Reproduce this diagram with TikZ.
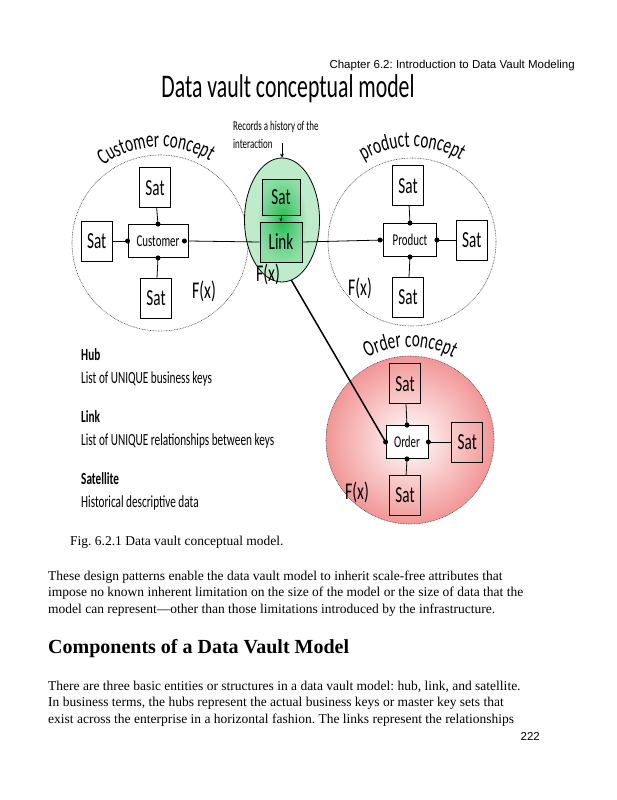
\documentclass[tikz,border=0pt]{standalone}
\usepackage{fontspec}
\setmainfont{Liberation Serif}
\newfontfamily\dvfont[FakeStretch=0.66]{Carlito}
\newfontfamily\hdfont{Liberation Sans}
\usepackage{tikz}
\usetikzlibrary{arrows.meta}
\usetikzlibrary{positioning}
\usetikzlibrary{shapes}
\usetikzlibrary{backgrounds}
\usetikzlibrary{decorations.text}

\definecolor{orderpink}{RGB}{242,150,150}
\definecolor{linkedge}{RGB}{190,236,202}
\definecolor{linkmid}{RGB}{120,212,150}
\definecolor{linkcore}{RGB}{30,190,80}
\pgfdeclareradialshading{linkglow}{\pgfpoint{0bp}{0bp}}{color(0bp)=(linkcore); color(8bp)=(linkmid); color(17bp)=(linkedge); color(25bp)=(linkedge); color(50bp)=(linkedge)}

\begin{document}
\frenchspacing
\begin{tikzpicture}[x=1pt, y=1pt,
    sat/.style={draw, line width=0.8pt, fill=white, minimum width=31pt, minimum height=40pt, inner sep=0pt, font=\dvfont\fontsize{23}{23}\selectfont},
    hub/.style={draw, line width=0.8pt, fill=white, minimum height=33pt, inner sep=0pt, font=\dvfont\fontsize{16.5}{16.5}\selectfont},
    concept/.style={circle, draw=black!70, dash pattern=on 0.8pt off 0.8pt, line width=0.6pt, inner sep=0pt},
    fx/.style={inner sep=0pt, font=\dvfont\fontsize{24}{24}\selectfont},
    conn/.style={line width=0.8pt},
    curvelabel/.style={decorate, decoration={text along path, text align=center, text={|\dvfont\fontsize{23}{23}\selectfont|#1}}},
    legend/.style={anchor=base west, inner sep=0pt, align=left, font=\dvfont\fontsize{17}{23}\selectfont},
    body/.style={anchor=base west, inner sep=0pt, align=left, font=\fontsize{13.5}{16.5}\selectfont}]
        \useasboundingbox (0,0) rectangle (617,-800);
        \begin{scope}[on background layer]
            \fill[white] (0,0) rectangle (617,-800);
            \node[concept, shade, minimum size=168pt, inner color=white, outer color=orderpink] (ordc) at (410,-440) {};
        \end{scope}

        \node[anchor=base east, inner sep=0pt, font=\hdfont\fontsize{11.5}{12}\selectfont] (chapter) at (575,-69) {Chapter 6.2: Introduction to Data Vault Modeling};
        \node[anchor=base, inner sep=0pt, font=\dvfont\fontsize{33}{33}\selectfont] (title) at (288,-97) {Data vault conceptual model};

        % customer concept
        \node[concept, minimum size=176pt] (custc) at (160,-243) {};
        \path[curvelabel=Customer concept] ([shift={(126:96pt)}]custc.center) arc[start angle=126, end angle=59, radius=96pt];
        \node[hub, minimum width=60pt] (cust) at (158,-241) {Customer};
        \node[sat, above=16pt of cust, xshift=-3pt] (custtop) {Sat};
        \node[sat, left=15pt of cust] (custleft) {Sat};
        \node[sat, below=20pt of cust, xshift=-2pt] (custbot) {Sat};
        \node[fx] (custfx) at (204,-291) {F(x)};
        \draw[conn] (custtop) -- (cust.north);
        \draw[conn] (custleft) -- (cust.west);
        \draw[conn] (custbot) -- (cust.south);
        \foreach \a in {north,south,west} \fill (cust.\a) circle (2.5pt);
        \fill ([xshift=-4pt]cust.east) circle (2.5pt);

        % product concept
        \node[concept, minimum size=168pt] (prodc) at (412,-242) {};
        \path[curvelabel=product concept] ([shift={(122:95pt)}]prodc.center) arc[start angle=122, end angle=58, radius=95pt];
        \node[hub, minimum width=53pt] (prod) at (410,-240) {Product};
        \node[sat, above=17pt of prod, xshift=-2pt] (prodtop) {Sat};
        \node[sat, right=19pt of prod] (prodright) {Sat};
        \node[sat, below=20pt of prod, xshift=-2pt] (prodbot) {Sat};
        \node[fx] (prodfx) at (360,-288) {F(x)};
        \draw[conn] (prodtop) -- (prod.north);
        \draw[conn] (prodright) -- (prod.east);
        \draw[conn] (prodbot) -- (prod.south);
        \foreach \a in {north,south,east} \fill (prod.\a) circle (2.5pt);
        \fill ([xshift=-3pt]prod.west) circle (2.5pt);

        % order concept
        \path[curvelabel=Order concept] ([shift={(118:93pt)}]ordc.center) arc[start angle=118, end angle=62, radius=93pt];
        \node[hub, minimum width=42pt] (ord) at (407,-442) {Order};
        \node[sat, fill=none, above=21pt of ord, xshift=-2pt] (ordtop) {Sat};
        \node[sat, fill=none, right=23pt of ord] (ordright) {Sat};
        \node[sat, fill=none, below=16pt of ord, xshift=-2pt] (ordbot) {Sat};
        \node[fx] (ordfx) at (357,-492) {F(x)};
        \draw[conn] (ordtop) -- (ord.north);
        \draw[conn] (ordright) -- (ord.east);
        \draw[conn] (ordbot) -- (ord.south);
        \foreach \a in {north,south,east,west} \fill (ord.\a) circle (2.5pt);

        % link
        \node[ellipse, draw, shade, shading=linkglow, line width=0.8pt, minimum width=75pt, minimum height=124pt] (linkc) at (282,-220) {};
        \node[sat, minimum width=38pt, minimum height=36pt, fill=linkcore, fill opacity=0.3, text opacity=1] (linksat) at (281,-197) {Sat};
        \node[sat, minimum width=42pt, minimum height=40pt, fill=linkcore, fill opacity=0.3, text opacity=1] (link) at (281,-242) {Link};
        \draw[conn, -{Latex[length=3pt,width=3.5pt]}] (linksat) -- (link);
        \node[fx] (linkfx) at (268,-274) {F(x)};
        \node[anchor=north west, inner sep=0pt, align=left, font=\dvfont\fontsize{13.5}{18}\selectfont] (records) at (233,-121) {Records a history of the\\interaction};
        \coordinate[above=15pt of linkc.north] (recordsend);
        \draw[line width=0.7pt, -{Stealth[length=4pt,width=4pt]}] (recordsend) -- (linkc.north);
        \draw[conn] (cust.east) -- (link.west);
        \draw[conn] (link.east) -- (prod.west);
        \begin{scope}[on background layer]
            \draw[line width=1.5pt] (link.south) -- (ord.west);
        \end{scope}

        % legend
        \node[legend] (hubtxt) at (81,-383) {\textbf{Hub}\\List of UNIQUE business keys};
        \node[legend] (linktxt) at (81,-445) {\textbf{Link}\\List of UNIQUE relationships between keys};
        \node[legend] (sattxt) at (81,-507) {\textbf{Satellite}\\Historical descriptive data};

        % page text
        \node[body] (caption) at (70,-545) {Fig. 6.2.1 Data vault conceptual model.};
        \node[body] (para1) at (48,-613) {These design patterns enable the data vault model to inherit scale-free attributes that\\impose no known inherent limitation on the size of the model or the size of data that the\\model can represent---other than those limitations introduced by the infrastructure.};
        \node[anchor=base west, inner sep=0pt, font=\bfseries\fontsize{20}{24}\selectfont] (heading) at (48,-653) {Components of a Data Vault Model};
        \node[body] (para2) at (48,-723) {There are three basic entities or structures in a data vault model: hub, link, and satellite.\\In business terms, the hubs represent the actual business keys or master key sets that\\exist across the enterprise in a horizontal fashion. The links represent the relationships};
        \node[anchor=base east, inner sep=0pt, font=\hdfont\fontsize{11.5}{12}\selectfont] (pagenum) at (540,-740) {222};
\end{tikzpicture}
\end{document}
